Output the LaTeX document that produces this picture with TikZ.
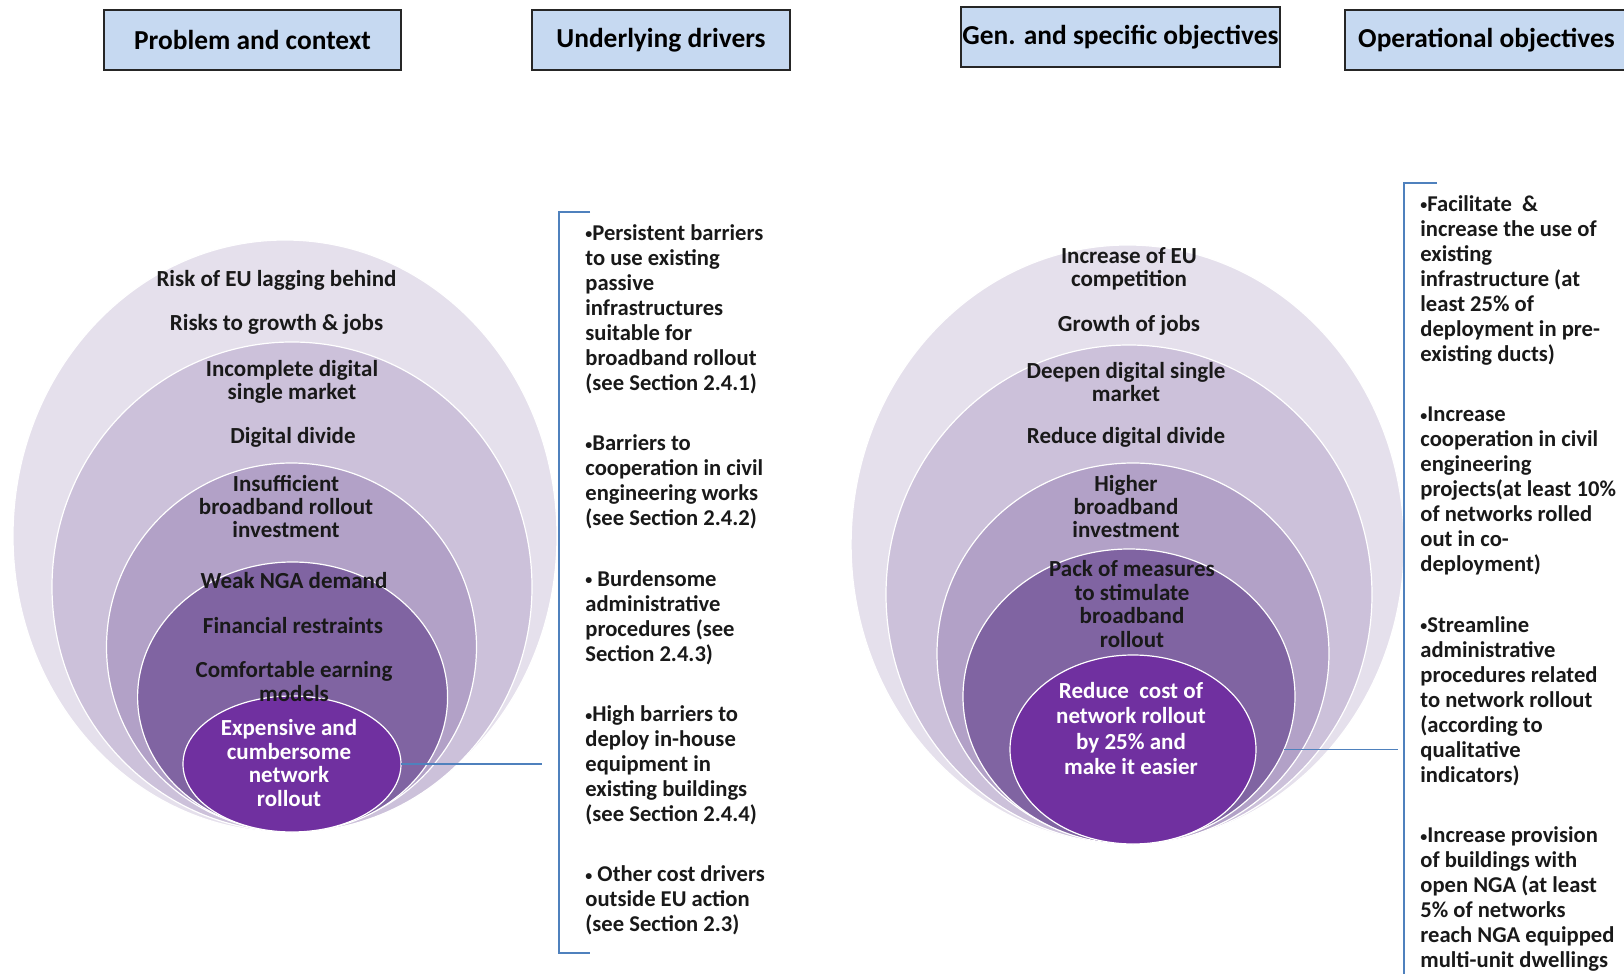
\documentclass[tikz,border=0pt]{standalone}
\usepackage{fontspec}
\setmainfont{Carlito}
\usetikzlibrary{shapes.geometric}

\definecolor{ringA}{RGB}{229,224,236}
\definecolor{ringB}{RGB}{204,193,218}
\definecolor{ringC}{RGB}{178,161,199}
\definecolor{ringD}{RGB}{128,100,162}
\definecolor{ringE}{RGB}{112,48,160}
\definecolor{headblue}{RGB}{198,217,241}
\definecolor{linkblue}{RGB}{79,129,189}
\newcommand{\dotmark}{\raisebox{0.12ex}{\scalebox{0.62}{•}}}

\begin{document}
\begin{tikzpicture}[x=0.5pt, y=-0.5pt,
		head/.style={draw=black!85, line width=0.6pt, fill=headblue, minimum height=30pt, inner sep=0pt, font=\fontsize{13.7}{16}\selectfont\bfseries},
		ring/.style={ellipse, draw=white, line width=0.6pt, inner sep=0pt, outer sep=0pt},
		ctext/.style={align=center, inner sep=0pt, text=black!90, font=\fontsize{11.5}{11.7}\selectfont\bfseries},
		wtext/.style={ctext, text=white},
		blist/.style={align=left, inner sep=0pt, anchor=north west, text=black!90, font=\fontsize{11.3}{12.5}\selectfont\bfseries},
		link/.style={draw=linkblue, line width=0.6pt}]
	\useasboundingbox (0,0) rectangle (1624,974);
	\node[head, minimum width=148.5pt] (problem) at (252.5,40) {Problem and context};
	\node[head, minimum width=129pt] (drivers) at (661,40) {Underlying drivers};
	\node[head, minimum width=159.5pt] (objectives) at (1120.5,37) {Gen. and specific objectives};
	\node[head, minimum width=141.5pt] (operational) at (1486.5,40) {Operational objectives};

	\node[ring, fill=ringA, minimum width=272pt, minimum height=296pt] (e1) at (285,536) {};
	\node[ring, fill=ringB, minimum width=240pt, minimum height=245pt] (e2) at (292,587) {};
	\node[ring, fill=ringC, minimum width=185pt, minimum height=184pt] (e3) at (291.5,647) {};
	\node[ring, fill=ringD, minimum width=155pt, minimum height=135pt] (e4) at (292.6,697) {};
	\node[ring, fill=ringE, minimum width=109pt, minimum height=68pt] (e5) at (292,764) {};

	\node[ctext] (risk) at (276.5,280) {Risk of EU lagging behind};
	\node[ctext] (growth) at (276.5,324) {Risks to growth \& jobs};
	\node[ctext] (market) at (292,382) {Incomplete digital\\single market};
	\node[ctext] (divide) at (293,437) {Digital divide};
	\node[ctext] (invest) at (286,506.5) {Insufficient\\broadband rollout\\investment};
	\node[ctext] (demand) at (294,581) {Weak NGA demand};
	\node[ctext] (finance) at (293,625.5) {Financial restraints};
	\node[ctext] (earning) at (294,681.5) {Comfortable earning\\models};
	\node[wtext] (expensive) at (289,763) {Expensive and\\cumbersome\\network\\rollout};

	\node[ring, fill=ringA, minimum width=276.5pt, minimum height=299.5pt] (f1) at (1127.6,544.5) {};
	\node[ring, fill=ringB, minimum width=243pt, minimum height=249.5pt] (f2) at (1129,594.5) {};
	\node[ring, fill=ringC, minimum width=196pt, minimum height=190.5pt] (f3) at (1133,653.5) {};
	\node[ring, fill=ringD, minimum width=166pt, minimum height=147.5pt] (f4) at (1129,696.5) {};
	\node[ring, fill=ringE, minimum width=123pt, minimum height=94.5pt] (f5) at (1133,749.5) {};

	\node[ctext] (compete) at (1129,269) {Increase of EU\\competition};
	\node[ctext] (jobs) at (1129,325) {Growth of jobs};
	\node[ctext] (deepen) at (1126,382) {Deepen digital single\\market};
	\node[ctext] (reduce) at (1126,437) {Reduce digital divide};
	\node[ctext] (higher) at (1126,506.5) {Higher\\broadband\\investment};
	\node[ctext] (pack) at (1132,604) {Pack of measures\\to stimulate\\broadband\\rollout};
	\node[wtext, font=\fontsize{11.5}{12.6}\selectfont\bfseries] (cost) at (1131,728.5) {Reduce\ \ cost of\\network rollout\\by 25\% and\\make it easier};

	\node[blist] (causes) at (585,224) {\dotmark Persistent barriers\\to use existing\\passive\\infrastructures\\suitable for\\broadband rollout\\(see Section 2.4.1)\\[17.7pt]
		\dotmark Barriers to\\cooperation in civil\\engineering works\\(see Section 2.4.2)\\[17.7pt]
		\dotmark\ Burdensome\\administrative\\procedures (see\\Section 2.4.3)\\[17.7pt]
		\dotmark High barriers to\\deploy in-house\\equipment in\\existing buildings\\(see Section 2.4.4)\\[17.7pt]
		\dotmark\ Other cost drivers\\outside EU action\\(see Section 2.3)};
	\node[blist] (targets) at (1420,195) {\dotmark Facilitate\ \ \&\\increase the use of\\existing\\infrastructure (at\\least 25\% of\\deployment in pre-\\existing ducts)\\[17.7pt]
		\dotmark Increase\\cooperation in civil\\engineering\\projects(at least 10\%\\of networks rolled\\out in co-\\deployment)\\[17.7pt]
		\dotmark Streamline\\administrative\\procedures related\\to network rollout\\(according to\\qualitative\\indicators)\\[17.7pt]
		\dotmark Increase provision\\of buildings with\\open NGA (at least\\5\% of networks\\reach NGA equipped\\multi-unit dwellings};

	\coordinate (lend) at (542,764);
	\coordinate (rend) at (1398,752);
	\draw[link] (590,212) -- (559,212) -- (559,953) -- (590,953);
	\draw[link] (1437,183) -- (1404,183) -- (1404,990);
	\path[link]
	(e5.east) edge (lend)
	(f4.-19.8) edge (f4.-19.8 -| rend);
\end{tikzpicture}
\end{document}
